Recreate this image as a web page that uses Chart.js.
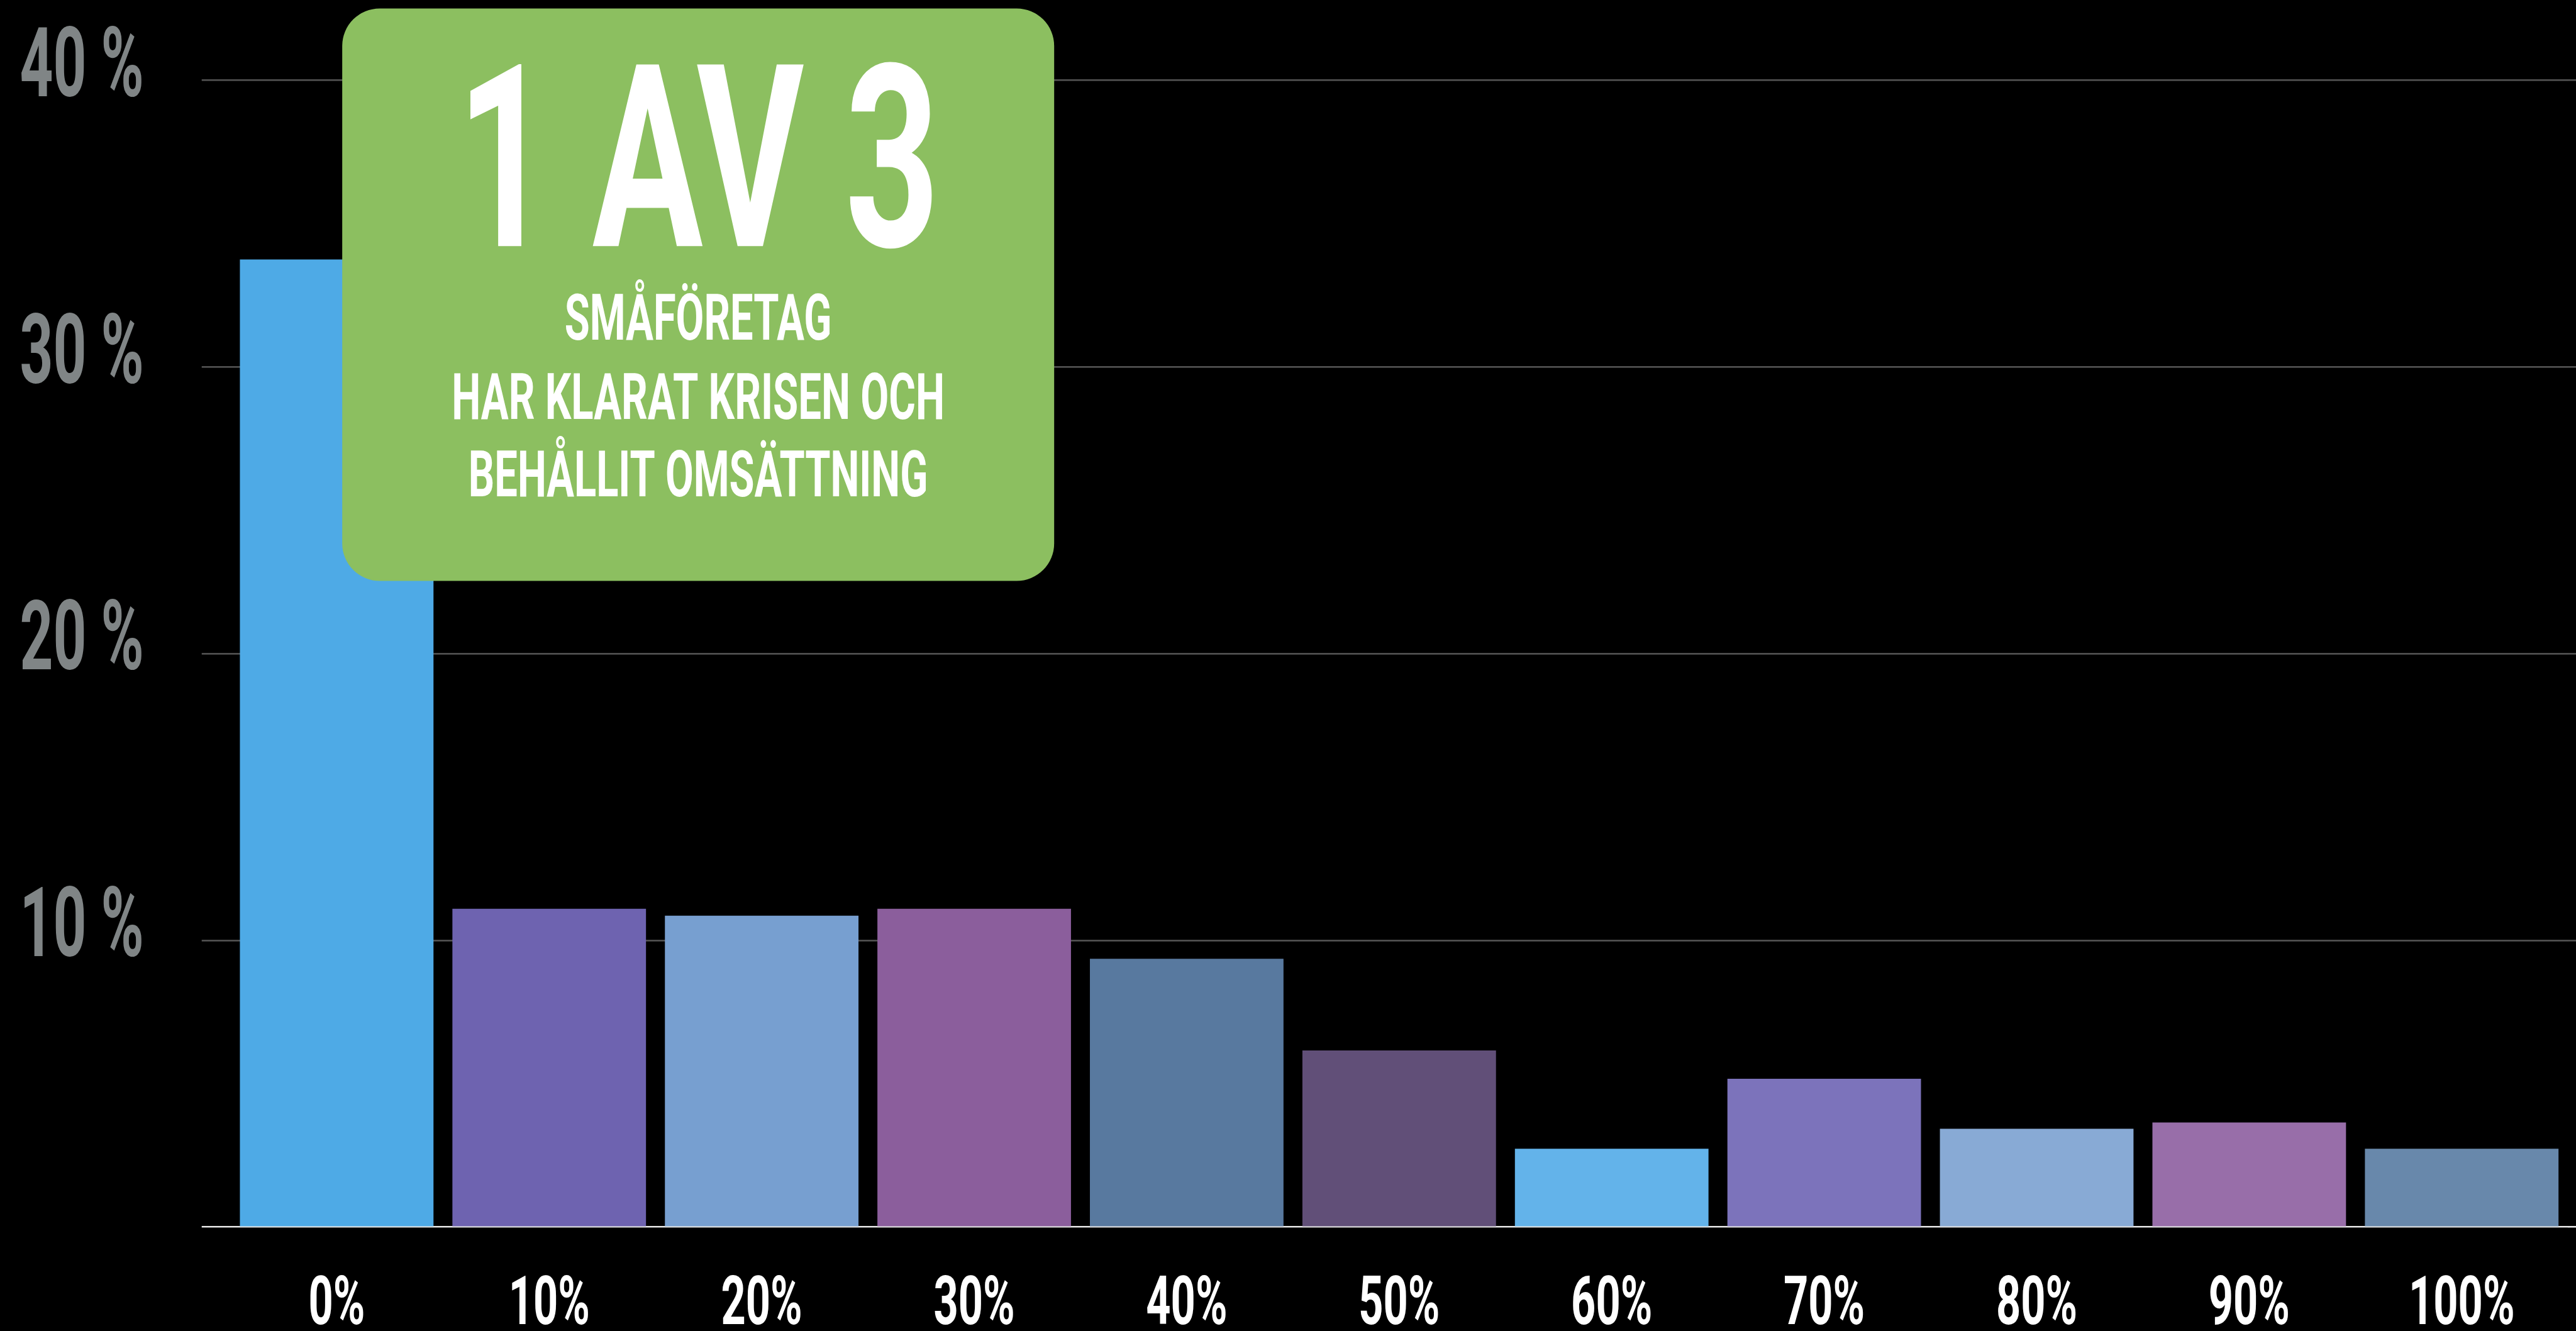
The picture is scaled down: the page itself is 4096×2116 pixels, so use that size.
<!DOCTYPE html>
<html>
<head>
<meta charset="utf-8">
<script src="https://cdn.jsdelivr.net/npm/chart.js@4.4.1/dist/chart.umd.min.js"></script>
<style>
html,body{margin:0;padding:0;background:#000;overflow:hidden}
#wrap{position:relative;width:4096px;height:2116px;background:#000}
canvas{display:block}
</style>
</head>
<body>
<div id="wrap"><canvas id="c" width="4096" height="2116"></canvas></div>
<script>
// ---- data ----
const categories = ['0%','10%','20%','30%','40%','50%','60%','70%','80%','90%','100%'];
const shares = [33.75, 11.1, 10.86, 11.1, 9.36, 6.16, 2.73, 5.17, 3.43, 3.65, 2.73];
const barColors = ['#4eaae6','#6e63b0','#779fd0','#8b5e9c','#58799f','#614f78','#63b3ea','#7c73bb','#88aad5','#986ea9','#6888ab'];
const yTickValues = [0, 10, 20, 30, 40];
const yTickLabels = ['', '10 %', '20 %', '30 %', '40 %'];
const calloutLines = ['1 AV 3', 'SMÅFÖRETAG', 'HAR KLARAT KRISEN OCH', 'BEHÅLLIT OMSÄTTNING'];

// ---- style ----
const S = 0.993;
const FONT = 'Roboto, "Liberation Sans", sans-serif';
const GRID = '#4f4f4f';
const BASE = '#e8e8e8';

function condensedLabels(scale, sx) {
  scale.drawLabels = function (chartArea) {
    if (!this.options.ticks.display) return;
    const ctx = this.ctx;
    for (const item of this.getLabelItems(chartArea)) {
      const o = item.options;
      ctx.save();
      ctx.translate(o.translation[0], o.translation[1]);
      ctx.scale(sx, 1);
      Chart.helpers.renderText(ctx, item.label, 0, item.textOffset, item.font,
        Object.assign({}, o, { translation: null }));
      ctx.restore();
    }
  };
}

const condensedPlugin = {
  id: 'condensed',
  beforeDraw(chart) {
    condensedLabels(chart.scales.x, 0.64);
    condensedLabels(chart.scales.y, 0.60);
  }
};

const calloutPlugin = {
  id: 'callout',
  afterDraw(chart) {
    const ctx = chart.ctx;
    const x = 548 * S, y = 13.5 * S, w = (1688 - 548) * S, h = (930 - 13.5) * S;
    ctx.save();
    ctx.fillStyle = '#8cbf60';
    ctx.beginPath();
    ctx.roundRect(x, y, w, h, 60 * S);
    ctx.fill();
    const cx = x + w / 2;
    const specs = [
      { size: 406, base: 394, sx: 0.645 },
      { size: 102.7, base: 544, sx: 0.633 },
      { size: 102.7, base: 671, sx: 0.636 },
      { size: 102.7, base: 795, sx: 0.633 }
    ];
    ctx.fillStyle = '#ffffff';
    ctx.textAlign = 'center';
    ctx.textBaseline = 'alphabetic';
    calloutLines.forEach((t, i) => {
      const sp = specs[i];
      ctx.save();
      ctx.translate(cx, sp.base * S);
      ctx.scale(sp.sx, 1);
      ctx.font = `700 ${sp.size}px ${FONT}`;
      ctx.fillText(t, 0, 0);
      ctx.restore();
    });
    ctx.restore();
  }
};

const gridColor = c => (c.tick && c.tick.value === 0 ? BASE : GRID);
const gridWidth = c => (c.tick && c.tick.value === 0 ? 2.6 : 2.7);

new Chart(document.getElementById('c'), {
  type: 'bar',
  data: {
    labels: categories,
    datasets: [{
      data: shares,
      backgroundColor: barColors,
      borderWidth: 0,
      categoryPercentage: 1,
      barPercentage: 0.911
    }]
  },
  options: {
    responsive: false,
    animation: false,
    devicePixelRatio: 1,
    layout: { padding: { top: 128.6 * S, left: 0, right: 0, bottom: 0 } },
    plugins: { legend: { display: false }, tooltip: { enabled: false } },
    scales: {
      x: {
        type: 'category',
        offset: true,
        grid: { display: false, drawTicks: false },
        border: { display: false },
        ticks: {
          color: '#ffffff',
          padding: 0,
          maxRotation: 0,
          autoSkip: false,
          font: { family: FONT, size: 107, weight: '700', lineHeight: 2.378 }
        },
        afterFit(s) { s.height = 2116 - 1964.5 * S; }
      },
      y: {
        type: 'linear',
        position: 'left',
        min: 0,
        max: 40,
        afterBuildTicks(s) { s.ticks = yTickValues.map(v => ({ value: v })); },
        grid: { color: gridColor, lineWidth: gridWidth, drawTicks: true, tickLength: 46 * S, tickColor: gridColor, tickWidth: gridWidth },
        border: { display: false },
        ticks: {
          color: '#808586',
          padding: 92,
          labelOffset: -13.4,
          font: { family: FONT, size: 154, weight: '700', lineHeight: 0.1 },
          callback: v => yTickLabels[yTickValues.indexOf(v)]
        },
        afterFit(s) { s.width = 369 * S; }
      },
      y2: {
        type: 'linear',
        position: 'right',
        min: 0,
        max: 40,
        afterBuildTicks(s) { s.ticks = yTickValues.map(v => ({ value: v })); },
        grid: { drawOnChartArea: false, drawTicks: true, tickLength: 13, color: gridColor, lineWidth: gridWidth, tickColor: gridColor, tickWidth: gridWidth },
        border: { display: false },
        ticks: { display: false, padding: 0, font: { lineHeight: 0.1 } },
        afterFit(s) { s.width = 4096 - 4112 * S; }
      }
    }
  },
  plugins: [condensedPlugin, calloutPlugin]
});
</script>
</body>
</html>
